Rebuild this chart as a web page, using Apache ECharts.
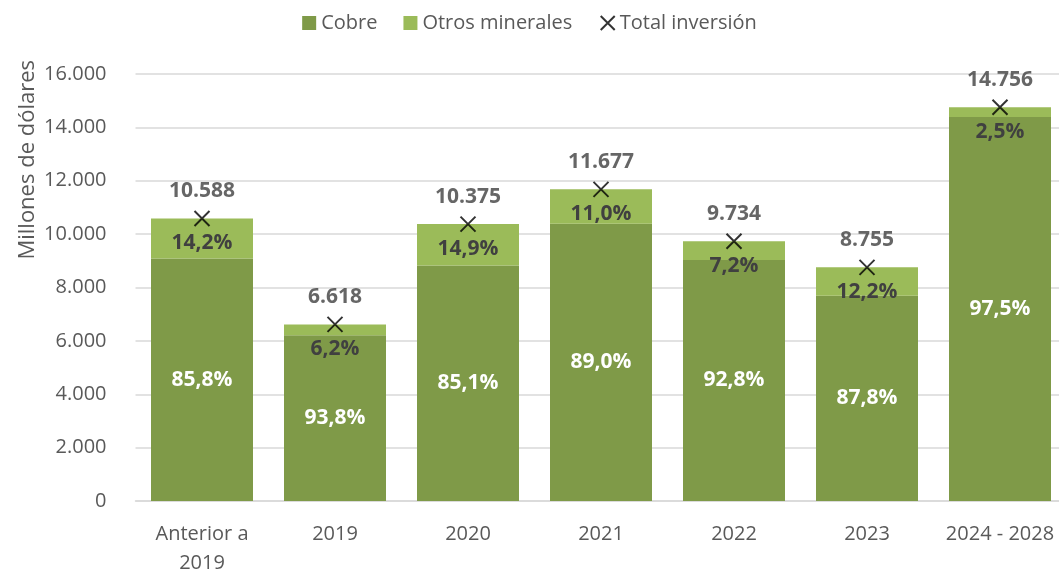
<!DOCTYPE html>
<html>
<head>
<meta charset="utf-8">
<script src="https://cdn.jsdelivr.net/npm/echarts@6/dist/echarts.min.js"></script>
<style>
  html, body { margin: 0; padding: 0; background: #fff; }
  #chart { width: 1059px; height: 571px; }
</style>
</head>
<body>
<div id="chart"></div>
<script>
// Datos (millones de dólares)
var categories = ['Anterior a\n2019', '2019', '2020', '2021', '2022', '2023', '2024 - 2028'];
var cobre = [9085, 6208, 8829, 10393, 9033, 7687, 14387];
var otros = [1503, 410, 1546, 1284, 701, 1068, 369];
var total = [10588, 6618, 10375, 11677, 9734, 8755, 14756];
var yTicks = [0, 2000, 4000, 6000, 8000, 10000, 12000, 14000, 16000];

var FONT = '"Open Sans", "Noto Sans", sans-serif';
var crossPath = 'path://M0,0L10,10M10,0L0,10';

function miles(v) {
    return String(v).replace(/\B(?=(\d{3})+(?!\d))/g, '.');
}
function pct(part, i) {
    return (part / total[i] * 100).toFixed(1).replace('.', ',') + '%';
}

var myChart = echarts.init(document.getElementById('chart'));

option = {
    animation: false,
    textStyle: { fontFamily: FONT },
    legend: {
        top: 8,
        left: 'center',
        itemGap: 26,
        itemWidth: 14,
        itemHeight: 14,
        textStyle: { color: '#595959', fontSize: 20, fontFamily: FONT },
        data: [
            { name: 'Cobre', icon: 'rect' },
            { name: 'Otros minerales', icon: 'rect' },
            { name: 'Total inversión', icon: crossPath,
              itemStyle: { color: 'none', borderColor: '#000', borderWidth: 2 } }
        ]
    },
    graphic: [{
        type: 'text',
        x: 28,
        y: 60,
        rotation: Math.PI / 2,
        style: {
            text: 'Millones de dólares',
            fill: '#595959',
            font: '22px ' + FONT,
            align: 'right',
            verticalAlign: 'middle'
        }
    }],
    grid: {
        left: 135.5,
        right: -7.5,
        top: 74,
        bottom: 70,
        outerBoundsMode: 'none'
    },
    xAxis: {
        type: 'category',
        data: categories,
        axisTick: { show: false },
        axisLine: { lineStyle: { color: '#d9d9d9', width: 1.5 } },
        axisLabel: {
            color: '#595959',
            fontSize: 20,
            margin: 19,
            lineHeight: 29,
            interval: 0
        }
    },
    yAxis: {
        type: 'value',
        min: yTicks[0],
        max: yTicks[yTicks.length - 1],
        interval: yTicks[1] - yTicks[0],
        axisLine: { show: false },
        axisTick: { show: false },
        splitLine: { lineStyle: { color: '#d9d9d9', width: 1.5 } },
        axisLabel: {
            color: '#595959',
            fontSize: 20,
            margin: 29,
            formatter: function (v) { return miles(v); }
        }
    },
    series: [
        {
            name: 'Cobre',
            type: 'bar',
            stack: 'inv',
            barWidth: 102,
            data: cobre,
            itemStyle: { color: '#7f9a48' },
            label: {
                show: true,
                position: 'inside',
                color: '#ffffff',
                fontSize: 21,
                fontWeight: 'bold',
                formatter: function (p) { return pct(p.value, p.dataIndex); }
            }
        },
        {
            name: 'Otros minerales',
            type: 'bar',
            stack: 'inv',
            barWidth: 102,
            data: otros,
            itemStyle: { color: '#9bbb59' },
            label: {
                show: true,
                position: 'insideTop',
                distance: 14,
                color: '#404040',
                fontSize: 21,
                fontWeight: 'bold',
                formatter: function (p) { return pct(p.value, p.dataIndex); }
            }
        },
        {
            name: 'Total inversión',
            type: 'scatter',
            data: total,
            symbol: crossPath,
            symbolSize: 15,
            z: 5,
            itemStyle: { color: 'none', borderColor: '#000', borderWidth: 2 },
            label: {
                show: true,
                position: 'top',
                distance: 7,
                color: '#404040',
                fontSize: 21,
                fontWeight: 'bold',
                formatter: function (p) { return miles(p.value); }
            }
        }
    ]
};
myChart.setOption(option);
</script>
</body>
</html>
